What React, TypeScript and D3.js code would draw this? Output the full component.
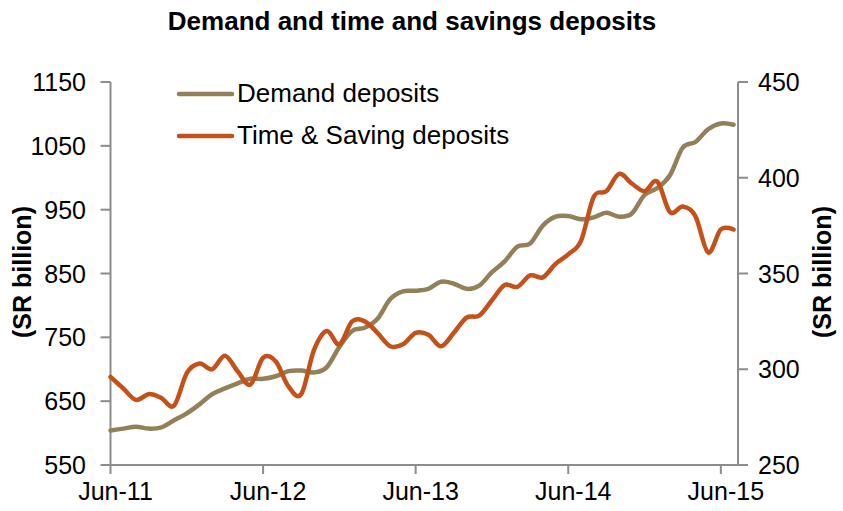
import React from "react";
import * as d3 from "d3";

// monthly, Jun-11 .. Jul-15 (SR billion)
const demandDeposits = [
  604, 607, 610, 607, 609, 620, 631, 645, 661, 670, 678, 685,
  685, 689, 697, 698, 695, 703, 735, 760, 765, 779, 810, 822,
  823, 826, 837, 834, 826, 831, 852, 869, 892, 897, 925, 939,
  940, 935, 938, 945, 939, 944, 973, 984, 1004, 1047, 1056, 1076,
  1085, 1083,
];
const timeSavingDeposits = [
  296, 290, 284, 287, 285, 281, 298, 303, 300, 307, 299, 292,
  306, 304, 291, 287, 310, 320, 313, 325, 325, 319, 312, 313,
  319, 318, 312, 319, 327, 328, 336, 344, 343, 349, 348, 355,
  360, 367, 390, 393, 402, 397, 393, 398, 382, 385, 380, 361,
  373, 373,
];
const xTickMonths = [0, 12, 24, 36, 48];
const xTickLabels = ["Jun-11", "Jun-12", "Jun-13", "Jun-14", "Jun-15"];
const leftTicks = [550, 650, 750, 850, 950, 1050, 1150];
const rightTicks = [250, 300, 350, 400, 450];
const seriesNames = ["Demand deposits", "Time & Saving deposits"];

const W = 843;
const H = 511;
const plotLeft = 110.5;
const plotRight = 738;
const plotTop = 82;
const plotBottom = 465;

const DEMAND_COLOR = "#938059";
const TIME_COLOR = "#C4501A";
const AXIS_COLOR = "#8c8c8c";
const FONT = "'Liberation Sans', Arial, sans-serif";

const App = () => {
  const x = d3.scaleLinear().domain([0, 49.35]).range([plotLeft, plotRight]);
  const yLeft = d3.scaleLinear().domain([550, 1150]).range([plotBottom, plotTop]);
  const yRight = d3.scaleLinear().domain([250, 450]).range([plotBottom, plotTop]);

  const demandLine = d3
    .line<number>()
    .x((_, i) => x(i))
    .y((d) => yLeft(d))
    .curve(d3.curveCardinal.tension(0));

  const timeLine = d3
    .line<number>()
    .x((_, i) => x(i))
    .y((d) => yRight(d))
    .curve(d3.curveCardinal.tension(0));

  const legendLine = d3.line<[number, number]>();

  return (
    <svg
      width={W}
      height={H}
      style={{ position: "absolute", left: 0, top: 0, background: "#fff" }}
      fontFamily={FONT}
    >
      {/* title */}
      <text x={412} y={30} textAnchor="middle" fontSize={26} fontWeight="bold" fill="#000">
        Demand and time and savings deposits
      </text>

      {/* axes */}
      <g stroke={AXIS_COLOR} strokeWidth={2} fill="none">
        <line x1={plotLeft} x2={plotLeft} y1={plotTop} y2={plotBottom} />
        <line x1={plotRight} x2={plotRight} y1={plotTop} y2={plotBottom} />
        <line x1={plotLeft} x2={plotRight} y1={plotBottom} y2={plotBottom} />
        {leftTicks.map((t) => (
          <line key={"l" + t} x1={plotLeft - 10} x2={plotLeft} y1={yLeft(t)} y2={yLeft(t)} />
        ))}
        {rightTicks.map((t) => (
          <line key={"r" + t} x1={plotRight} x2={plotRight + 10} y1={yRight(t)} y2={yRight(t)} />
        ))}
        {xTickMonths.map((m) => (
          <line key={"x" + m} x1={x(m)} x2={x(m)} y1={plotBottom} y2={plotBottom + 9} />
        ))}
      </g>

      {/* tick labels */}
      <g fontSize={25} fill="#000">
        {leftTicks.map((t) => (
          <text key={"lt" + t} x={86} y={yLeft(t)} dy="0.36em" textAnchor="end">
            {t}
          </text>
        ))}
        {rightTicks.map((t) => (
          <text key={"rt" + t} x={758} y={yRight(t)} dy="0.36em" textAnchor="start">
            {t}
          </text>
        ))}
        {xTickMonths.map((m, i) => (
          <text key={"xt" + m} x={x(m) + 5} y={500} textAnchor="middle">
            {xTickLabels[i]}
          </text>
        ))}
      </g>

      {/* axis titles */}
      <text
        transform={`translate(31, 272) rotate(-90)`}
        textAnchor="middle"
        fontSize={25}
        fontWeight="bold"
      >
        (SR billion)
      </text>
      <text
        transform={`translate(831, 272) rotate(-90)`}
        textAnchor="middle"
        fontSize={25}
        fontWeight="bold"
      >
        (SR billion)
      </text>

      {/* series */}
      <path
        d={demandLine(demandDeposits) || ""}
        fill="none"
        stroke={DEMAND_COLOR}
        strokeWidth={4.5}
        strokeLinecap="round"
        strokeLinejoin="round"
      />
      <path
        d={timeLine(timeSavingDeposits) || ""}
        fill="none"
        stroke={TIME_COLOR}
        strokeWidth={4.5}
        strokeLinecap="round"
        strokeLinejoin="round"
      />

      {/* legend */}
      {seriesNames.map((name, i) => {
        const ly = 94 + i * 42;
        return (
          <g key={name}>
            <path
              d={legendLine([[179, ly], [232, ly]]) || ""}
              stroke={i === 0 ? DEMAND_COLOR : TIME_COLOR}
              strokeWidth={4.5}
              strokeLinecap="round"
            />
            <text x={237} y={ly + 8} fontSize={26} fill="#000">
              {name}
            </text>
          </g>
        );
      })}
    </svg>
  );
};

export default App;
